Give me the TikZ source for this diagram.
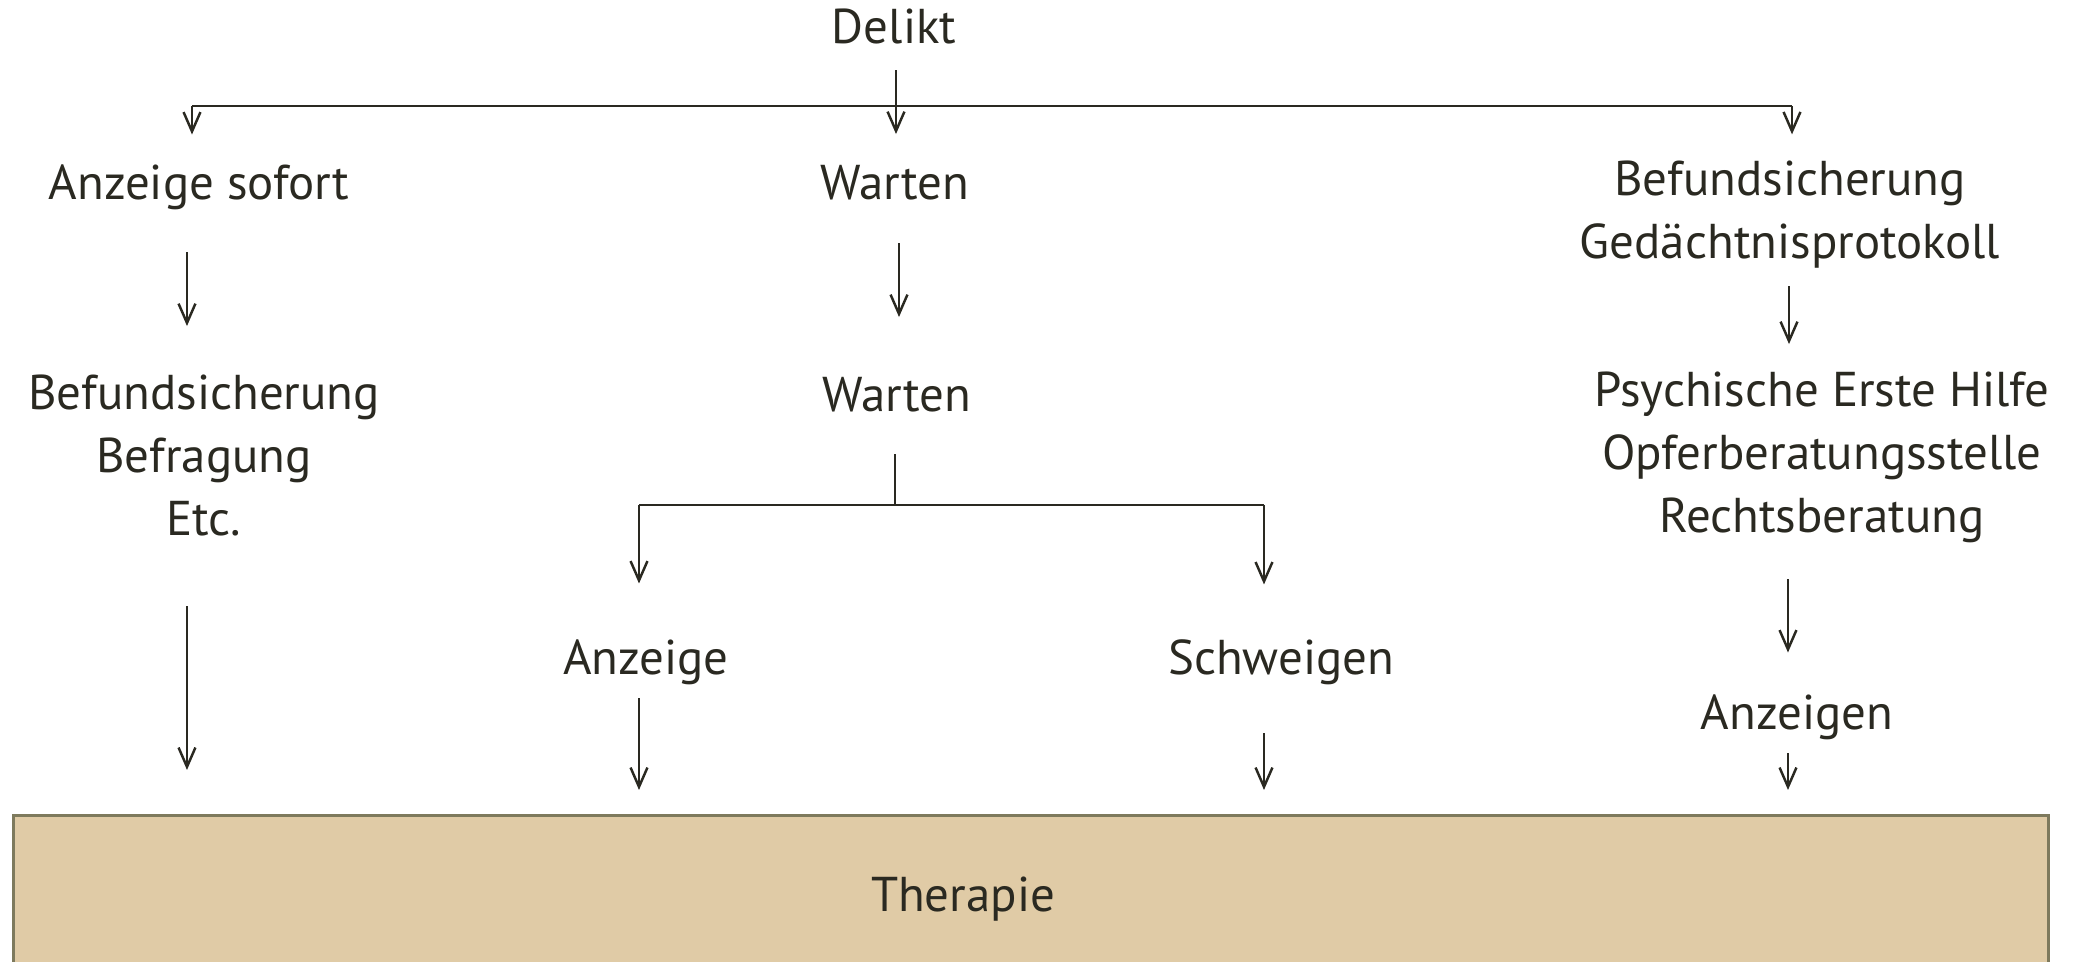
\documentclass[tikz,border=0pt]{standalone}
\usepackage{fontspec}
\setmainfont{PT Sans}
\usetikzlibrary{arrows.meta}
\definecolor{inkdark}{HTML}{2A2921}
\definecolor{tanfill}{HTML}{E0CBA6}
\definecolor{tanline}{HTML}{7E7A5D}
\begin{document}
\begin{tikzpicture}
[x=0.01cm, y=-0.01cm,
    lbl/.style={font=\fontsize{13.9}{18}\selectfont, text=inkdark, inner sep=0pt, anchor=base, align=center},
    arr/.style={draw=inkdark, line width=0.7pt, -{Straight Barb[length=5.5pt,width=4.8pt]}},
    bar/.style={draw=inkdark, line width=0.7pt},
    therabox/.style={fill=tanfill, draw=tanline, line width=0.8pt, minimum width=20.34cm, minimum height=2cm, anchor=north west, inner sep=0pt}]
\useasboundingbox (0,0) rectangle (2075,962);
\node [therabox] (box) at (12,814) {};
\node [lbl] (delikt) at (894,44) {Delikt};
\node [lbl] (sofort) at (199,200) {Anzeige sofort};
\node [lbl] (warten) at (895,200) {Warten};
\node [lbl] (befund) at (1790,259) {Befundsicherung\\Gedächtnisprotokoll};
\node [lbl] (bef) at (204,536) {Befundsicherung\\Befragung\\Etc.};
\node [lbl] (warten2) at (897,412) {Warten};
\node [lbl] (psych) at (1822,533) {Psychische Erste Hilfe\\Opferberatungsstelle\\Rechtsberatung};
\node [lbl] (anz) at (646,675) {Anzeige};
\node [lbl] (schw) at (1281,675) {Schweigen};
\node [lbl] (anzn) at (1797,730) {Anzeigen};
\node [lbl] (therapie) at (963,912) {Therapie};
\coordinate (barl) at (192,106);
\coordinate (barr) at (1792,106);
\coordinate (splitl) at (639,505);
\coordinate (splitr) at (1264,505);
\draw [bar] (barl) -- (barr);
\draw [arr, shorten <=0.25cm, shorten >=0.31cm] ([xshift=0.02cm]delikt.south) -- ([xshift=0.02cm]delikt.south |- warten.north);
\draw [arr, shorten >=0.30cm] (barl) -- (barl |- sofort.north);
\draw [arr, shorten >=0.26cm] (barr) -- (barr |- befund.north);
\draw [arr, shorten <=0.41cm, shorten >=0.48cm] ([xshift=-0.12cm]sofort.south) -- ([xshift=-0.12cm]sofort.south |- bef.north);
\draw [arr, shorten <=0.42cm, shorten >=0.60cm] ([xshift=0.04cm]warten.south) -- ([xshift=0.04cm]warten.south |- warten2.north);
\draw [arr, shorten <=0.17cm, shorten >=0.27cm] ([xshift=-0.01cm]befund.south) -- ([xshift=-0.01cm]befund.south |- psych.north);
\draw [arr, shorten <=0.69cm, shorten >=0.44cm] ([xshift=-0.17cm]bef.south) -- ([xshift=-0.17cm]bef.south |- box.north);
\draw [bar, shorten <=0.41cm] ([xshift=-0.02cm]warten2.south) -- ([xshift=-0.02cm]warten2.south |- splitl);
\draw [bar] (splitl) -- (splitr);
\draw [arr, shorten >=0.56cm] (splitl) -- (splitl |- anz.north);
\draw [arr, shorten >=0.55cm] (splitr) -- (splitr |- schw.north);
\draw [arr, shorten <=0.12cm, shorten >=0.24cm] ([xshift=-0.07cm]anz.south) -- ([xshift=-0.07cm]anz.south |- box.north);
\draw [arr, shorten <=0.47cm, shorten >=0.24cm] ([xshift=-0.17cm]schw.south) -- ([xshift=-0.17cm]schw.south |- box.north);
\draw [arr, shorten <=0.35cm, shorten >=0.42cm] ([xshift=-0.34cm]psych.south) -- ([xshift=-0.34cm]psych.south |- anzn.north);
\draw [arr, shorten <=0.12cm, shorten >=0.24cm] ([xshift=-0.09cm]anzn.south) -- ([xshift=-0.09cm]anzn.south |- box.north);
\end{tikzpicture}
\end{document}
